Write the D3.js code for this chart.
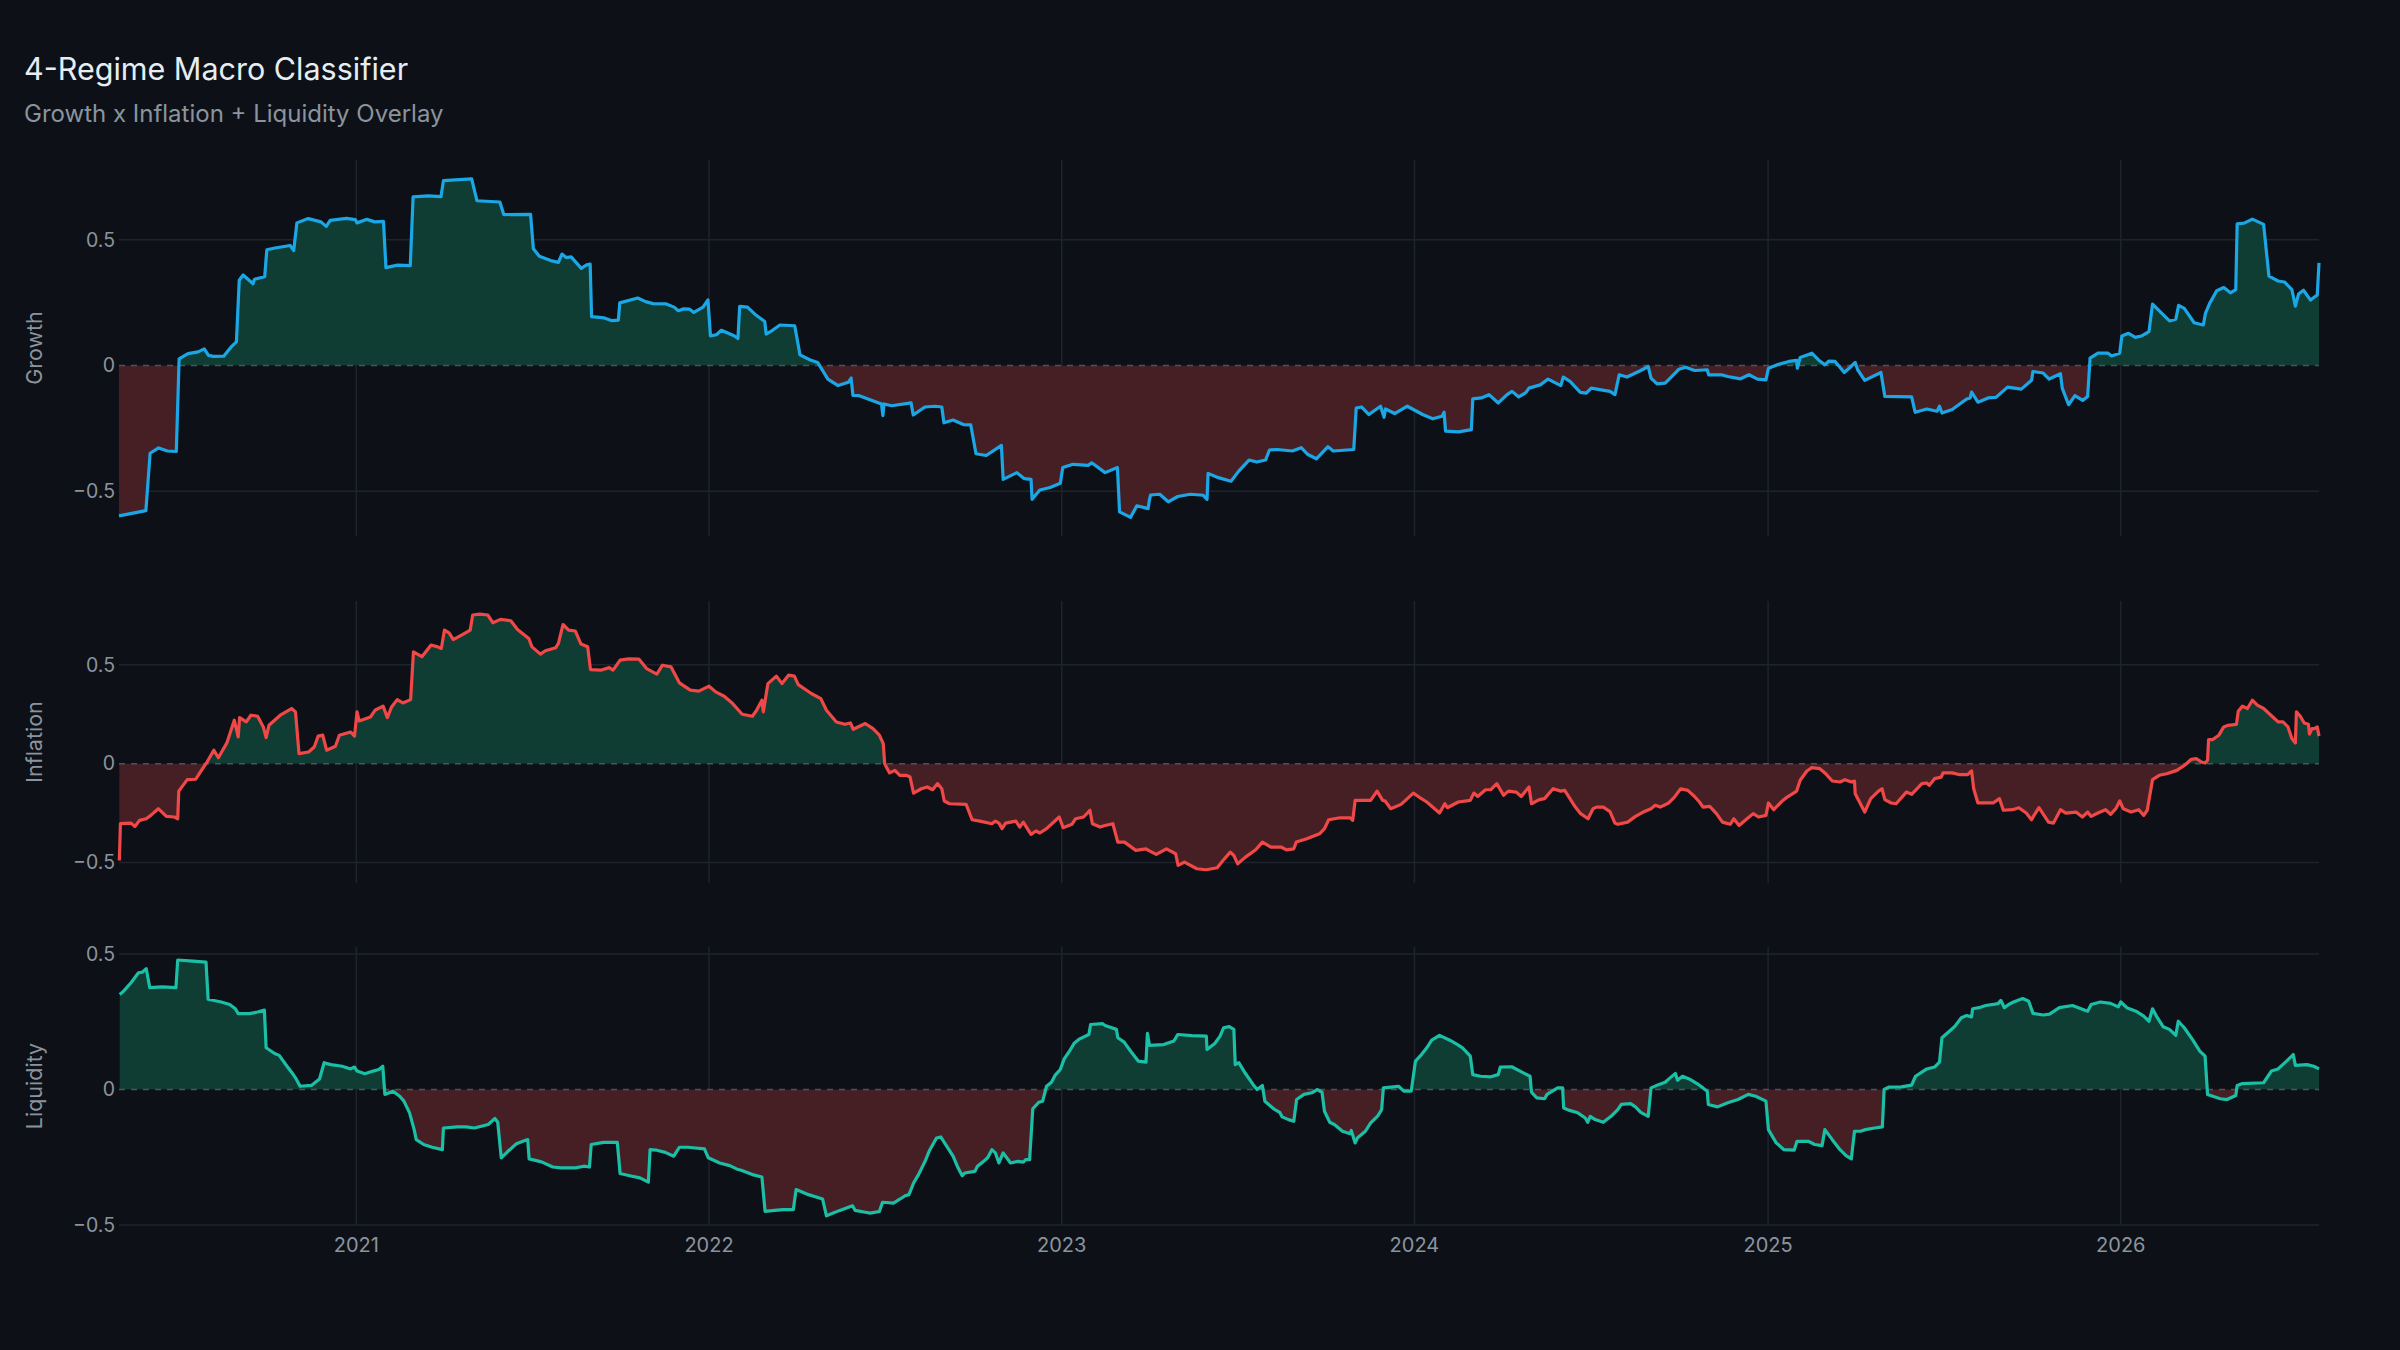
<!DOCTYPE html>
<html>
<head>
<meta charset="utf-8">
<script src="https://cdn.jsdelivr.net/npm/d3@7"></script>
<style>
  html, body { margin: 0; padding: 0; background: #0d1117; }
  svg { display: block; }
  text { font-family: Inter, "Noto Sans", sans-serif; }
</style>
</head>
<body>
<svg id="chart"></svg>
<script>
"use strict";

// decimal-year timestamps and readings, one pair of arrays per panel
const growthT = [2020.329,2020.405,2020.417,2020.441,2020.466,2020.491,2020.499,2020.524,2020.553,2020.570,2020.582,2020.596,2020.625,2020.647,2020.661,2020.669,2020.680,2020.708,2020.712,2020.741,2020.747,2020.770,2020.813,2020.823,2020.832,2020.864,2020.900,2020.915,2020.926,2020.972,2020.997,2021.002,2021.030,2021.052,2021.077,2021.084,2021.117,2021.153,2021.161,2021.204,2021.240,2021.247,2021.327,2021.342,2021.407,2021.418,2021.494,2021.502,2021.519,2021.551,2021.573,2021.583,2021.595,2021.609,2021.638,2021.653,2021.663,2021.667,2021.703,2021.725,2021.743,2021.747,2021.798,2021.820,2021.841,2021.877,2021.901,2021.913,2021.928,2021.945,2021.957,2021.983,2021.997,2022.004,2022.021,2022.035,2022.071,2022.082,2022.087,2022.109,2022.130,2022.158,2022.162,2022.180,2022.201,2022.243,2022.258,2022.287,2022.308,2022.337,2022.366,2022.395,2022.403,2022.408,2022.426,2022.489,2022.493,2022.496,2022.518,2022.573,2022.579,2022.612,2022.641,2022.660,2022.666,2022.692,2022.721,2022.742,2022.757,2022.786,2022.829,2022.834,2022.873,2022.894,2022.913,2022.916,2022.938,2022.967,2022.996,2023.003,2023.032,2023.075,2023.085,2023.123,2023.158,2023.164,2023.195,2023.213,2023.245,2023.249,2023.252,2023.278,2023.302,2023.329,2023.365,2023.401,2023.412,2023.415,2023.444,2023.480,2023.502,2023.531,2023.553,2023.578,2023.589,2023.611,2023.654,2023.679,2023.698,2023.722,2023.755,2023.770,2023.828,2023.835,2023.850,2023.871,2023.904,2023.914,2023.918,2023.944,2023.980,2024.023,2024.052,2024.078,2024.084,2024.088,2024.125,2024.161,2024.165,2024.189,2024.211,2024.237,2024.262,2024.276,2024.295,2024.315,2024.324,2024.356,2024.378,2024.400,2024.414,2024.421,2024.440,2024.469,2024.486,2024.500,2024.524,2024.553,2024.567,2024.579,2024.601,2024.640,2024.661,2024.669,2024.686,2024.709,2024.726,2024.748,2024.767,2024.792,2024.828,2024.832,2024.868,2024.886,2024.922,2024.946,2024.970,2024.994,2025.001,2025.030,2025.059,2025.081,2025.083,2025.091,2025.124,2025.143,2025.161,2025.172,2025.190,2025.216,2025.233,2025.247,2025.254,2025.274,2025.320,2025.331,2025.407,2025.417,2025.450,2025.479,2025.486,2025.493,2025.522,2025.563,2025.573,2025.577,2025.595,2025.624,2025.646,2025.679,2025.718,2025.747,2025.751,2025.780,2025.797,2025.829,2025.834,2025.852,2025.870,2025.892,2025.906,2025.913,2025.935,2025.964,2025.974,2025.997,2026.003,2026.022,2026.041,2026.058,2026.080,2026.090,2026.138,2026.156,2026.164,2026.180,2026.208,2026.234,2026.240,2026.252,2026.272,2026.292,2026.311,2026.326,2026.330,2026.350,2026.373,2026.405,2026.420,2026.446,2026.464,2026.485,2026.495,2026.504,2026.518,2026.538,2026.557,2026.562];
const growthV = [-0.598,-0.577,-0.349,-0.328,-0.340,-0.342,0.026,0.047,0.054,0.066,0.040,0.036,0.037,0.075,0.094,0.339,0.360,0.325,0.343,0.353,0.460,0.467,0.477,0.457,0.567,0.584,0.571,0.553,0.577,0.585,0.580,0.567,0.581,0.571,0.573,0.389,0.399,0.397,0.670,0.674,0.671,0.735,0.742,0.655,0.650,0.600,0.601,0.464,0.434,0.417,0.410,0.443,0.429,0.432,0.386,0.400,0.403,0.194,0.189,0.178,0.180,0.249,0.268,0.254,0.246,0.245,0.232,0.218,0.225,0.224,0.211,0.232,0.261,0.118,0.122,0.140,0.118,0.107,0.235,0.232,0.204,0.175,0.125,0.140,0.161,0.158,0.042,0.022,0.012,-0.054,-0.080,-0.067,-0.050,-0.119,-0.120,-0.153,-0.199,-0.153,-0.160,-0.149,-0.197,-0.165,-0.162,-0.165,-0.228,-0.217,-0.235,-0.236,-0.351,-0.358,-0.318,-0.453,-0.426,-0.450,-0.453,-0.532,-0.495,-0.485,-0.468,-0.406,-0.393,-0.397,-0.387,-0.426,-0.406,-0.582,-0.604,-0.558,-0.569,-0.532,-0.515,-0.512,-0.542,-0.521,-0.512,-0.516,-0.532,-0.429,-0.446,-0.460,-0.420,-0.376,-0.384,-0.376,-0.336,-0.334,-0.340,-0.327,-0.354,-0.371,-0.323,-0.340,-0.334,-0.169,-0.165,-0.195,-0.162,-0.206,-0.173,-0.191,-0.162,-0.195,-0.212,-0.202,-0.186,-0.261,-0.264,-0.255,-0.133,-0.129,-0.116,-0.149,-0.116,-0.103,-0.125,-0.108,-0.090,-0.077,-0.054,-0.070,-0.080,-0.046,-0.063,-0.107,-0.110,-0.090,-0.096,-0.103,-0.116,-0.037,-0.046,-0.020,-0.004,-0.050,-0.073,-0.070,-0.046,-0.015,-0.007,-0.020,-0.017,-0.037,-0.037,-0.044,-0.053,-0.037,-0.054,-0.057,-0.011,0.005,0.016,0.020,-0.011,0.032,0.049,0.022,0.003,0.017,0.016,-0.028,-0.007,0.012,-0.017,-0.059,-0.028,-0.123,-0.125,-0.186,-0.173,-0.182,-0.162,-0.189,-0.175,-0.133,-0.129,-0.106,-0.146,-0.129,-0.127,-0.086,-0.094,-0.059,-0.024,-0.030,-0.054,-0.033,-0.090,-0.156,-0.120,-0.139,-0.123,0.029,0.049,0.049,0.038,0.049,0.117,0.128,0.112,0.117,0.135,0.244,0.177,0.184,0.239,0.227,0.170,0.161,0.207,0.247,0.297,0.310,0.289,0.302,0.563,0.566,0.582,0.561,0.355,0.336,0.332,0.302,0.236,0.284,0.299,0.260,0.280,0.408];

const inflationT = [2020.330,2020.333,2020.363,2020.374,2020.387,2020.406,2020.419,2020.440,2020.463,2020.486,2020.495,2020.498,2020.522,2020.546,2020.562,2020.578,2020.597,2020.610,2020.634,2020.655,2020.666,2020.670,2020.689,2020.702,2020.721,2020.737,2020.745,2020.753,2020.785,2020.801,2020.817,2020.828,2020.838,2020.865,2020.881,2020.892,2020.905,2020.916,2020.941,2020.952,2020.984,2020.995,2021.002,2021.008,2021.040,2021.053,2021.076,2021.088,2021.100,2021.116,2021.132,2021.154,2021.162,2021.186,2021.212,2021.231,2021.241,2021.250,2021.263,2021.275,2021.302,2021.323,2021.330,2021.350,2021.373,2021.387,2021.409,2021.438,2021.457,2021.489,2021.498,2021.522,2021.536,2021.565,2021.573,2021.586,2021.602,2021.621,2021.637,2021.656,2021.664,2021.693,2021.717,2021.728,2021.748,2021.772,2021.801,2021.823,2021.852,2021.868,2021.892,2021.916,2021.947,2021.971,2022.000,2022.019,2022.043,2022.067,2022.094,2022.123,2022.135,2022.150,2022.154,2022.167,2022.191,2022.207,2022.226,2022.242,2022.253,2022.290,2022.317,2022.333,2022.361,2022.385,2022.401,2022.409,2022.443,2022.465,2022.483,2022.494,2022.498,2022.512,2022.527,2022.541,2022.559,2022.570,2022.580,2022.602,2022.619,2022.634,2022.648,2022.660,2022.667,2022.682,2022.729,2022.746,2022.768,2022.802,2022.812,2022.822,2022.831,2022.841,2022.870,2022.881,2022.891,2022.913,2022.927,2022.938,2022.957,2022.993,2023.004,2023.029,2023.039,2023.062,2023.080,2023.087,2023.109,2023.123,2023.145,2023.159,2023.178,2023.210,2023.239,2023.246,2023.268,2023.297,2023.323,2023.330,2023.348,2023.383,2023.410,2023.441,2023.456,2023.478,2023.488,2023.499,2023.521,2023.550,2023.569,2023.593,2023.622,2023.637,2023.658,2023.665,2023.695,2023.731,2023.745,2023.757,2023.789,2023.818,2023.825,2023.832,2023.876,2023.894,2023.910,2023.917,2023.933,2023.962,2023.980,2023.997,2024.013,2024.035,2024.071,2024.086,2024.093,2024.124,2024.158,2024.168,2024.179,2024.201,2024.216,2024.233,2024.252,2024.266,2024.288,2024.302,2024.324,2024.331,2024.353,2024.368,2024.392,2024.414,2024.425,2024.455,2024.470,2024.491,2024.505,2024.515,2024.534,2024.553,2024.567,2024.575,2024.603,2024.625,2024.647,2024.669,2024.681,2024.695,2024.719,2024.734,2024.753,2024.773,2024.792,2024.806,2024.816,2024.835,2024.854,2024.871,2024.893,2024.903,2024.918,2024.937,2024.958,2024.973,2024.994,2025.001,2025.016,2025.042,2025.052,2025.081,2025.091,2025.110,2025.124,2025.146,2025.161,2025.182,2025.204,2025.218,2025.236,2025.245,2025.247,2025.274,2025.291,2025.313,2025.323,2025.331,2025.349,2025.363,2025.392,2025.407,2025.436,2025.450,2025.457,2025.472,2025.491,2025.496,2025.522,2025.544,2025.566,2025.577,2025.583,2025.595,2025.638,2025.656,2025.667,2025.693,2025.711,2025.732,2025.747,2025.754,2025.768,2025.795,2025.809,2025.829,2025.844,2025.873,2025.891,2025.906,2025.916,2025.935,2025.957,2025.971,2025.986,2025.997,2026.007,2026.029,2026.051,2026.065,2026.075,2026.090,2026.109,2026.130,2026.159,2026.181,2026.200,2026.214,2026.229,2026.239,2026.246,2026.249,2026.261,2026.278,2026.292,2026.304,2026.328,2026.333,2026.345,2026.359,2026.373,2026.387,2026.405,2026.431,2026.446,2026.460,2026.474,2026.485,2026.495,2026.498,2026.509,2026.520,2026.532,2026.535,2026.542,2026.549,2026.557,2026.562];
const inflationV = [-0.49,-0.304,-0.301,-0.318,-0.287,-0.279,-0.262,-0.228,-0.267,-0.270,-0.279,-0.139,-0.081,-0.079,-0.034,0.008,0.068,0.030,0.105,0.220,0.135,0.233,0.211,0.245,0.240,0.186,0.132,0.194,0.245,0.262,0.279,0.262,0.051,0.059,0.084,0.139,0.144,0.068,0.088,0.144,0.160,0.139,0.262,0.216,0.236,0.270,0.291,0.233,0.287,0.324,0.307,0.324,0.566,0.541,0.600,0.591,0.583,0.676,0.662,0.628,0.654,0.676,0.752,0.757,0.752,0.713,0.730,0.723,0.679,0.633,0.591,0.554,0.571,0.586,0.608,0.704,0.676,0.671,0.605,0.591,0.476,0.473,0.486,0.473,0.524,0.530,0.529,0.481,0.453,0.498,0.490,0.409,0.372,0.367,0.392,0.363,0.341,0.304,0.250,0.240,0.270,0.321,0.262,0.405,0.443,0.405,0.448,0.443,0.400,0.355,0.329,0.270,0.211,0.199,0.206,0.174,0.203,0.177,0.144,0.101,0.0,-0.047,-0.034,-0.059,-0.059,-0.068,-0.149,-0.127,-0.118,-0.132,-0.101,-0.127,-0.189,-0.203,-0.206,-0.284,-0.291,-0.304,-0.291,-0.301,-0.329,-0.301,-0.291,-0.321,-0.296,-0.358,-0.341,-0.351,-0.329,-0.270,-0.324,-0.307,-0.279,-0.270,-0.236,-0.304,-0.321,-0.313,-0.304,-0.397,-0.397,-0.439,-0.431,-0.439,-0.459,-0.431,-0.456,-0.515,-0.498,-0.532,-0.537,-0.527,-0.493,-0.448,-0.465,-0.507,-0.473,-0.436,-0.397,-0.422,-0.422,-0.436,-0.431,-0.397,-0.380,-0.355,-0.329,-0.284,-0.274,-0.274,-0.287,-0.186,-0.186,-0.139,-0.186,-0.189,-0.228,-0.206,-0.177,-0.149,-0.169,-0.194,-0.250,-0.203,-0.223,-0.194,-0.186,-0.149,-0.166,-0.132,-0.132,-0.101,-0.160,-0.139,-0.144,-0.166,-0.118,-0.203,-0.182,-0.177,-0.127,-0.139,-0.135,-0.220,-0.253,-0.279,-0.228,-0.220,-0.220,-0.243,-0.301,-0.307,-0.296,-0.267,-0.245,-0.228,-0.211,-0.220,-0.199,-0.172,-0.127,-0.135,-0.166,-0.194,-0.220,-0.216,-0.253,-0.296,-0.307,-0.279,-0.313,-0.284,-0.253,-0.270,-0.262,-0.199,-0.233,-0.186,-0.172,-0.139,-0.084,-0.037,-0.020,-0.025,-0.047,-0.088,-0.093,-0.081,-0.093,-0.088,-0.152,-0.245,-0.177,-0.139,-0.127,-0.182,-0.199,-0.203,-0.144,-0.155,-0.101,-0.098,-0.110,-0.076,-0.068,-0.047,-0.047,-0.056,-0.056,-0.037,-0.127,-0.199,-0.199,-0.177,-0.236,-0.233,-0.223,-0.250,-0.284,-0.262,-0.223,-0.296,-0.301,-0.233,-0.250,-0.245,-0.270,-0.245,-0.267,-0.250,-0.233,-0.257,-0.228,-0.189,-0.228,-0.245,-0.233,-0.262,-0.236,-0.081,-0.059,-0.051,-0.034,-0.008,0.022,0.025,0.008,0.003,0.017,0.122,0.122,0.144,0.186,0.194,0.199,0.265,0.291,0.279,0.321,0.296,0.279,0.236,0.211,0.211,0.186,0.127,0.105,0.262,0.240,0.206,0.199,0.149,0.177,0.177,0.186,0.139];

const liquidityT = [2020.331,2020.342,2020.363,2020.384,2020.395,2020.406,2020.416,2020.451,2020.490,2020.495,2020.538,2020.575,2020.581,2020.618,2020.642,2020.658,2020.666,2020.698,2020.721,2020.740,2020.745,2020.769,2020.782,2020.804,2020.817,2020.830,2020.841,2020.873,2020.896,2020.909,2020.928,2020.960,2020.984,2020.995,2021.002,2021.024,2021.048,2021.064,2021.075,2021.081,2021.104,2021.123,2021.135,2021.151,2021.164,2021.170,2021.191,2021.215,2021.244,2021.247,2021.287,2021.311,2021.335,2021.374,2021.393,2021.401,2021.411,2021.430,2021.454,2021.478,2021.486,2021.490,2021.525,2021.557,2021.581,2021.621,2021.645,2021.661,2021.666,2021.701,2021.740,2021.748,2021.775,2021.804,2021.828,2021.833,2021.852,2021.876,2021.900,2021.916,2021.940,2021.987,2021.998,2022.030,2022.059,2022.078,2022.091,2022.123,2022.150,2022.159,2022.186,2022.210,2022.239,2022.247,2022.282,2022.322,2022.333,2022.369,2022.407,2022.414,2022.443,2022.457,2022.483,2022.492,2022.523,2022.542,2022.556,2022.567,2022.580,2022.594,2022.614,2022.624,2022.645,2022.657,2022.671,2022.692,2022.706,2022.718,2022.725,2022.754,2022.761,2022.776,2022.790,2022.802,2022.812,2022.822,2022.834,2022.855,2022.876,2022.891,2022.898,2022.909,2022.918,2022.935,2022.946,2022.957,2022.971,2022.981,2022.996,2023.007,2023.022,2023.036,2023.051,2023.077,2023.082,2023.116,2023.123,2023.155,2023.159,2023.177,2023.195,2023.217,2023.239,2023.243,2023.249,2023.289,2023.318,2023.329,2023.369,2023.410,2023.412,2023.434,2023.449,2023.459,2023.475,2023.488,2023.492,2023.502,2023.521,2023.543,2023.554,2023.569,2023.576,2023.601,2023.618,2023.625,2023.643,2023.658,2023.666,2023.687,2023.709,2023.724,2023.738,2023.745,2023.760,2023.774,2023.796,2023.818,2023.821,2023.832,2023.839,2023.861,2023.876,2023.897,2023.907,2023.912,2023.941,2023.955,2023.970,2023.991,2024.003,2024.020,2024.035,2024.049,2024.071,2024.100,2024.122,2024.136,2024.158,2024.165,2024.187,2024.216,2024.237,2024.243,2024.275,2024.304,2024.327,2024.331,2024.346,2024.368,2024.375,2024.405,2024.419,2024.422,2024.436,2024.462,2024.483,2024.490,2024.497,2024.511,2024.534,2024.556,2024.575,2024.585,2024.611,2024.625,2024.640,2024.661,2024.669,2024.690,2024.709,2024.723,2024.738,2024.744,2024.758,2024.777,2024.799,2024.816,2024.828,2024.831,2024.857,2024.886,2024.915,2024.944,2024.965,2024.994,2025.001,2025.023,2025.045,2025.074,2025.082,2025.114,2025.132,2025.153,2025.161,2025.182,2025.204,2025.221,2025.236,2025.245,2025.262,2025.276,2025.302,2025.324,2025.329,2025.342,2025.378,2025.407,2025.418,2025.436,2025.450,2025.472,2025.486,2025.493,2025.515,2025.530,2025.548,2025.563,2025.577,2025.580,2025.598,2025.617,2025.639,2025.653,2025.660,2025.670,2025.682,2025.696,2025.722,2025.739,2025.751,2025.780,2025.798,2025.826,2025.863,2025.906,2025.916,2025.942,2025.971,2025.993,2026.000,2026.017,2026.043,2026.065,2026.080,2026.090,2026.101,2026.120,2026.138,2026.156,2026.163,2026.180,2026.203,2026.224,2026.239,2026.246,2026.261,2026.282,2026.301,2026.326,2026.330,2026.345,2026.405,2026.427,2026.446,2026.470,2026.489,2026.495,2026.528,2026.547,2026.562];
const liquidityV = [0.351,0.363,0.394,0.431,0.433,0.446,0.376,0.379,0.376,0.478,0.474,0.470,0.333,0.323,0.314,0.298,0.280,0.280,0.286,0.293,0.154,0.133,0.126,0.086,0.064,0.039,0.012,0.015,0.039,0.099,0.092,0.086,0.076,0.083,0.068,0.058,0.068,0.074,0.086,-0.018,-0.006,-0.025,-0.043,-0.086,-0.148,-0.185,-0.203,-0.213,-0.222,-0.142,-0.138,-0.138,-0.142,-0.129,-0.107,-0.121,-0.252,-0.228,-0.200,-0.188,-0.185,-0.256,-0.267,-0.286,-0.289,-0.289,-0.283,-0.286,-0.203,-0.195,-0.195,-0.310,-0.318,-0.326,-0.342,-0.222,-0.224,-0.232,-0.246,-0.213,-0.213,-0.219,-0.252,-0.271,-0.281,-0.293,-0.298,-0.314,-0.323,-0.450,-0.446,-0.443,-0.443,-0.369,-0.388,-0.404,-0.466,-0.447,-0.429,-0.446,-0.453,-0.456,-0.450,-0.416,-0.419,-0.404,-0.392,-0.388,-0.345,-0.314,-0.261,-0.228,-0.179,-0.175,-0.203,-0.246,-0.289,-0.318,-0.308,-0.302,-0.283,-0.268,-0.252,-0.222,-0.234,-0.271,-0.234,-0.271,-0.265,-0.268,-0.259,-0.259,-0.071,-0.047,-0.043,0.012,0.027,0.052,0.074,0.113,0.142,0.172,0.187,0.203,0.240,0.243,0.236,0.222,0.191,0.175,0.142,0.105,0.101,0.207,0.163,0.166,0.179,0.203,0.199,0.197,0.148,0.170,0.197,0.228,0.232,0.222,0.092,0.099,0.059,0.018,0.0,0.015,-0.043,-0.071,-0.084,-0.101,-0.111,-0.117,-0.037,-0.018,-0.012,0.0,-0.010,-0.080,-0.121,-0.130,-0.154,-0.163,-0.151,-0.197,-0.178,-0.154,-0.123,-0.096,-0.074,0.006,0.010,0.012,-0.006,-0.006,0.105,0.129,0.154,0.182,0.200,0.182,0.166,0.154,0.123,0.055,0.049,0.047,0.055,0.083,0.084,0.064,0.049,-0.010,-0.031,-0.034,-0.018,0.006,0.006,-0.068,-0.076,-0.086,-0.105,-0.121,-0.099,-0.111,-0.121,-0.099,-0.074,-0.055,-0.052,-0.064,-0.084,-0.099,0.006,0.018,0.027,0.043,0.059,0.034,0.049,0.039,0.022,0.006,-0.006,-0.055,-0.064,-0.049,-0.037,-0.018,-0.025,-0.043,-0.148,-0.197,-0.222,-0.224,-0.191,-0.191,-0.203,-0.207,-0.148,-0.185,-0.222,-0.244,-0.256,-0.154,-0.154,-0.148,-0.142,-0.138,0.0,0.009,0.010,0.016,0.049,0.064,0.076,0.083,0.101,0.191,0.216,0.234,0.265,0.273,0.268,0.298,0.302,0.310,0.314,0.318,0.329,0.302,0.314,0.323,0.336,0.326,0.281,0.275,0.278,0.302,0.310,0.289,0.314,0.323,0.318,0.305,0.323,0.302,0.289,0.271,0.252,0.298,0.271,0.232,0.222,0.200,0.252,0.228,0.185,0.142,0.123,-0.018,-0.025,-0.034,-0.037,-0.022,0.015,0.022,0.025,0.068,0.076,0.105,0.129,0.089,0.092,0.086,0.076];

const yTicks = [-0.5, 0, 0.5];
const panelNames = ["Growth", "Inflation", "Liquidity"];
const lineColors = ["#1ba7e6", "#f04747", "#1abfa6"];
const yDomains = [[-0.678, 0.817], [-0.604, 0.823], [-0.5, 0.526]];

const titleText = "4-Regime Macro Classifier";
const subtitleText = "Growth x Inflation + Liquidity Overlay";

// decimal year -> Date (UTC)
function decYear(t) {
    const y = Math.floor(t);
    const s = Date.UTC(y, 0, 1), e = Date.UTC(y + 1, 0, 1);
    return new Date(s + (t - y) * (e - s));
}

const width = 2400, height = 1350;
const left = 119, right = 2319;
const panelBoxes = [[160, 536], [601, 883], [947, 1225]];

const svg = d3.select("#chart").attr("width", width).attr("height", height);
svg.append("rect").attr("width", width).attr("height", height).attr("fill", "#0d1117");

svg.append("text").attr("x", 24).attr("y", 80)
    .attr("fill", "#e6edf3").attr("font-size", 30.5).attr("font-weight", 400)
    .text(titleText);
svg.append("text").attr("x", 24).attr("y", 122)
    .attr("fill", "#8b949e").attr("font-size", 24)
    .text(subtitleText);

const x = d3.scaleUtc()
    .domain([decYear(2020.329), decYear(2026.562)])
    .range([left, right]);
const yearTicks = d3.range(2021, 2027).map(y => new Date(Date.UTC(y, 0, 1)));

const series = [
    growthT.map((t, i) => ({d: decYear(t), v: growthV[i]})),
    inflationT.map((t, i) => ({d: decYear(t), v: inflationV[i]})),
    liquidityT.map((t, i) => ({d: decYear(t), v: liquidityV[i]}))
];

const fmt = v => v === 0 ? "0" : d3.format(".1f")(v);

series.forEach((data, k) => {
    const [top, bottom] = panelBoxes[k];
    const y = d3.scaleLinear().domain(yDomains[k]).range([bottom, top]);
    const g = svg.append("g");

    // grid
    g.selectAll(".vg").data(yearTicks).enter().append("line")
        .attr("x1", d => x(d)).attr("x2", d => x(d))
        .attr("y1", top).attr("y2", bottom)
        .attr("stroke", "#1f242c").attr("stroke-width", 1.5);
    g.selectAll(".hg").data(yTicks.filter(v => v !== 0)).enter().append("line")
        .attr("x1", left).attr("x2", right)
        .attr("y1", d => y(d)).attr("y2", d => y(d))
        .attr("stroke", "#1f242c").attr("stroke-width", 1.5);

    // y tick labels
    g.selectAll(".yl").data(yTicks).enter().append("text")
        .attr("x", 115).attr("y", d => y(d))
        .attr("dy", "0.35em").attr("text-anchor", "end")
        .attr("fill", "#8b949e").attr("font-size", 19.5)
        .text(fmt);

    // axis title
    g.append("text")
        .attr("transform", `translate(34,${(top + bottom) / 2}) rotate(-90)`)
        .attr("text-anchor", "middle").attr("dy", "0.35em")
        .attr("fill", "#8b949e").attr("font-size", 21.5)
        .text(panelNames[k]);

    // fills split at zero with clip rects
    const y0 = y(0);
    const defs = svg.append("defs");
    defs.append("clipPath").attr("id", `pos${k}`).append("rect")
        .attr("x", left).attr("y", top).attr("width", right - left).attr("height", y0 - top);
    defs.append("clipPath").attr("id", `neg${k}`).append("rect")
        .attr("x", left).attr("y", y0).attr("width", right - left).attr("height", bottom - y0);

    const area = d3.area().x(d => x(d.d)).y0(y0).y1(d => y(d.v));
    g.append("path").datum(data).attr("d", area)
        .attr("fill", "#0f3c33").attr("clip-path", `url(#pos${k})`);
    g.append("path").datum(data).attr("d", area)
        .attr("fill", "#461f25").attr("clip-path", `url(#neg${k})`);

    // dashed zero line
    g.append("line")
        .attr("x1", left).attr("x2", right).attr("y1", y0).attr("y2", y0)
        .attr("stroke", "#4d535c").attr("stroke-width", 1.5)
        .attr("stroke-dasharray", "6,6");

    // series line
    g.append("path").datum(data)
        .attr("d", d3.line().x(d => x(d.d)).y(d => y(d.v)))
        .attr("fill", "none").attr("stroke", lineColors[k])
        .attr("stroke-width", 3.2).attr("stroke-linejoin", "round");

    // x tick labels under the last panel only
    if (k === series.length - 1) {
        g.selectAll(".xl").data(yearTicks).enter().append("text")
            .attr("x", d => x(d)).attr("y", 1245)
            .attr("dy", "0.35em").attr("text-anchor", "middle")
            .attr("fill", "#8b949e").attr("font-size", 20)
            .text(d3.utcFormat("%Y"));
    }
});
</script>
</body>
</html>
